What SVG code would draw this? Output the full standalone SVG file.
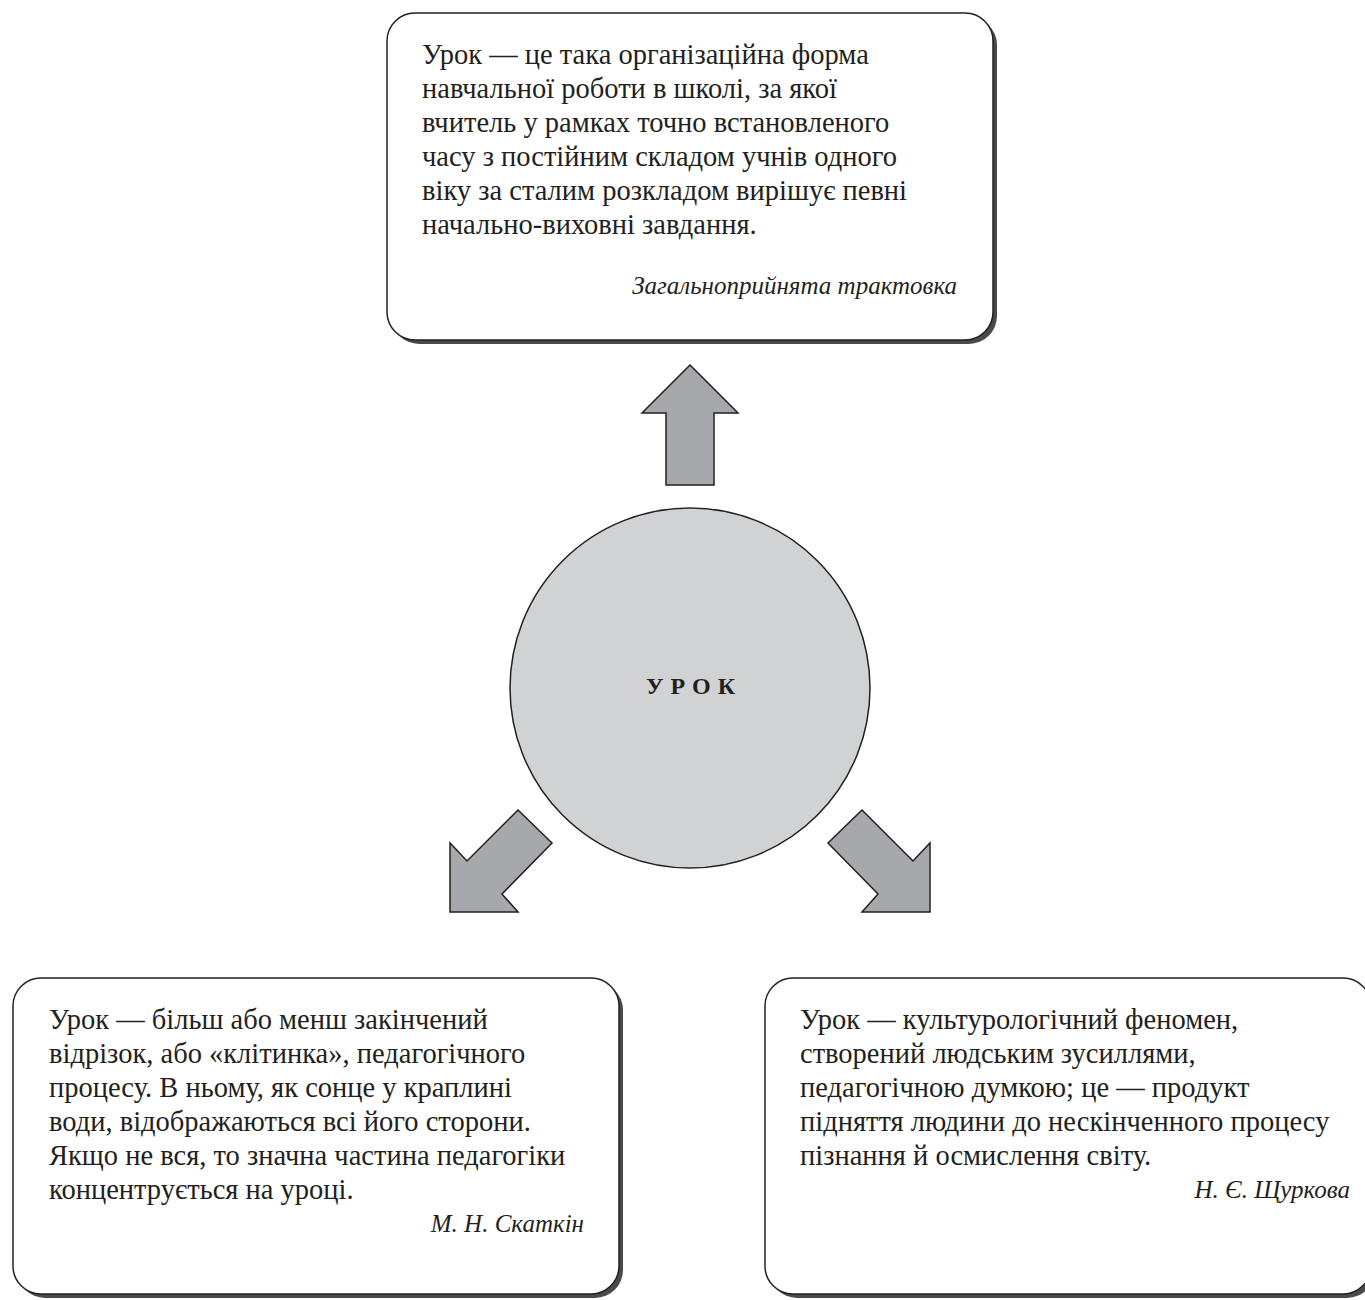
<svg xmlns="http://www.w3.org/2000/svg" width="1365" height="1300" viewBox="0 0 1365 1300">
<style>
.shadow{fill:#4a4a4a}
.box{fill:#fff;stroke:#222;stroke-width:1.5}
.t{font-family:"Liberation Serif","Times New Roman",serif;font-size:28.5px;fill:#231f20}
.a{font-family:"Liberation Serif","Times New Roman",serif;font-size:25px;font-style:italic;fill:#231f20;text-anchor:end}
.arrow{fill:#a7a8ab;stroke:#231f20;stroke-width:1.5;stroke-linejoin:miter}
.circ{fill:#d1d2d4;stroke:#231f20;stroke-width:1.5}
.c{font-family:"Liberation Serif","Times New Roman",serif;font-size:24px;font-weight:bold;letter-spacing:7px;fill:#231f20;text-anchor:middle}
</style>
<rect width="1365" height="1300" fill="#fff"/>
<g id="connectors">
<polygon class="arrow" points="690,365 738,413 714,413 714,485 666,485 666,413 642,413"/>
<polygon class="arrow" points="518,810 552,843 502,894 518,912 450,912 450,843 467,861"/>
<polygon class="arrow" points="862,810 828,843 878,894 862,912 930,912 930,843 913,861"/>
</g>
<g id="center">
<circle class="circ" cx="690" cy="688" r="180"/>
<text class="c" x="694" y="694">УРОК</text>
</g>
<g id="top">
<rect class="shadow" x="391" y="17" width="606" height="327" rx="28"/>
<rect class="box" x="387" y="13" width="606" height="327" rx="28"/>
<text class="t" x="422" y="64">Урок — це така організаційна форма</text>
<text class="t" x="422" y="98">навчальної роботи в школі, за якої</text>
<text class="t" x="422" y="132">вчитель у рамках точно встановленого</text>
<text class="t" x="422" y="166">часу з постійним складом учнів одного</text>
<text class="t" x="422" y="200">віку за сталим розкладом вирішує певні</text>
<text class="t" x="422" y="234">начально-виховні завдання.</text>
<text class="a" x="957" y="294">Загальноприйнята трактовка</text>
</g>
<g id="left">
<rect class="shadow" x="17" y="982" width="606" height="316" rx="28"/>
<rect class="box" x="13" y="978" width="606" height="316" rx="28"/>
<text class="t" x="49" y="1029">Урок — більш або менш закінчений</text>
<text class="t" x="49" y="1063">відрізок, або «клітинка», педагогічного</text>
<text class="t" x="49" y="1097">процесу. В ньому, як сонце у краплині</text>
<text class="t" x="49" y="1131">води, відображаються всі його сторони.</text>
<text class="t" x="49" y="1165">Якщо не вся, то значна частина педагогіки</text>
<text class="t" x="49" y="1199">концентрується на уроці.</text>
<text class="a" x="584" y="1232">М. Н. Скаткін</text>
</g>
<g id="right">
<rect class="shadow" x="769" y="982" width="606" height="316" rx="28"/>
<rect class="box" x="765" y="978" width="606" height="316" rx="28"/>
<text class="t" x="800" y="1029">Урок — культурологічний феномен,</text>
<text class="t" x="800" y="1063">створений людським зусиллями,</text>
<text class="t" x="800" y="1097">педагогічною думкою; це — продукт</text>
<text class="t" x="800" y="1131">підняття людини до нескінченного процесу</text>
<text class="t" x="800" y="1165">пізнання й осмислення світу.</text>
<text class="a" x="1350" y="1198">Н. Є. Щуркова</text>
</g>
</svg>
